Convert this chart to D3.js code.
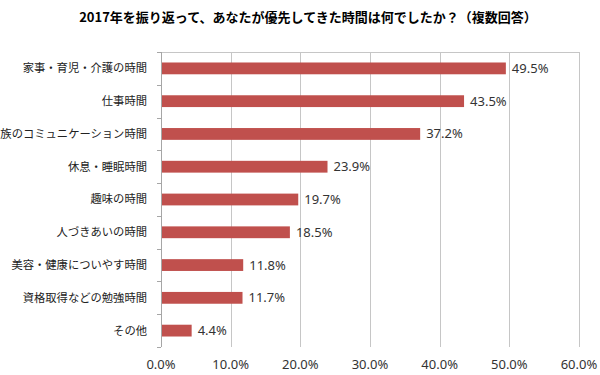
<!doctype html>
<html>
<head>
  <script src="https://cdnjs.cloudflare.com/ajax/libs/d3/7.8.5/d3.min.js"></script>
  <style>
    body { margin: 0; background: #fff; }
    .grid line { stroke: #c6c6c6; shape-rendering: crispEdges; }
    .axis line { stroke: #a6a6a6; shape-rendering: crispEdges; }
  </style>
</head>
<body>
  <svg width="600" height="375"></svg>
  <script>
    var categories = ["家事・育児・介護の時間", "仕事時間", "家族のコミュニケーション時間", "休息・睡眠時間",
      "趣味の時間", "人づきあいの時間", "美容・健康についやす時間", "資格取得などの勉強時間", "その他"];
    var values = [49.5, 43.5, 37.2, 23.9, 19.7, 18.5, 11.8, 11.7, 4.4];
    var tickValues = [0, 10, 20, 30, 40, 50, 60];
    var title = "2017年を振り返って、あなたが優先してきた時間は何でしたか？（複数回答）";

    var svg = d3.select("svg");
    var plotL = 161, plotR = 579, plotT = 52, plotB = 347;

    var x = d3.scaleLinear().domain([0, 60]).range([plotL, plotR]);
    var y = d3.scaleBand().domain(categories).range([plotT, plotB]).paddingInner(0.64).paddingOuter(0.32);

    svg.append("text")
      .attr("x", 308).attr("y", 22)
      .attr("text-anchor", "middle")
      .style("font-family", "'Noto Sans CJK JP', sans-serif")
      .style("font-size", "13px").style("font-weight", "bold")
      .text(title);

    // vertical grid lines
    var grid = svg.append("g").attr("class", "grid");
    grid.selectAll("line.v").data(tickValues).enter().append("line").attr("class", "v")
      .attr("x1", d => Math.round(x(d)) + 0.5).attr("x2", d => Math.round(x(d)) + 0.5)
      .attr("y1", plotT).attr("y2", plotB);
    grid.append("line")
      .attr("x1", plotL).attr("x2", plotR)
      .attr("y1", plotT + 0.5).attr("y2", plotT + 0.5);

    // category axis
    var bandEdges = d3.range(categories.length + 1).map(i => plotT + i * (plotB - plotT) / categories.length);
    var yAxis = svg.append("g").attr("class", "axis");
    yAxis.append("line").attr("x1", plotL + 0.5).attr("x2", plotL + 0.5).attr("y1", plotT).attr("y2", plotB);
    yAxis.selectAll("line.tk").data(bandEdges).enter().append("line").attr("class", "tk")
      .attr("x1", plotL - 4).attr("x2", plotL)
      .attr("y1", d => Math.round(d) + 0.5).attr("y2", d => Math.round(d) + 0.5);

    svg.selectAll("text.cat").data(categories).enter().append("text").attr("class", "cat")
      .attr("x", 147).attr("y", d => y(d) + y.bandwidth() / 2)
      .attr("dy", "0.35em").attr("text-anchor", "end")
      .style("font-family", "'Noto Sans CJK JP', sans-serif")
      .style("font-size", "11.3px").style("fill", "#222")
      .text(d => d);

    // x tick labels
    svg.selectAll("text.xt").data(tickValues).enter().append("text").attr("class", "xt")
      .attr("x", d => x(d)).attr("y", 369)
      .attr("text-anchor", "middle")
      .style("font-family", "'Noto Sans', sans-serif")
      .style("font-size", "13px").style("fill", "#333")
      .text(d => d3.format(".1f")(d) + "%");

    // bars
    svg.selectAll("rect.bar").data(values).enter().append("rect").attr("class", "bar")
      .attr("x", plotL + 1)
      .attr("y", (d, i) => y(categories[i]))
      .attr("width", d => x(d) - plotL - 1)
      .attr("height", y.bandwidth())
      .attr("fill", "#c0504d");

    svg.selectAll("text.val").data(values).enter().append("text").attr("class", "val")
      .attr("x", d => x(d) + 6)
      .attr("y", (d, i) => y(categories[i]) + y.bandwidth() / 2)
      .attr("dy", "0.35em")
      .style("font-family", "'Noto Sans', sans-serif")
      .style("font-size", "13px").style("fill", "#333")
      .text(d => d3.format(".1f")(d) + "%");
  </script>
</body>
</html>
